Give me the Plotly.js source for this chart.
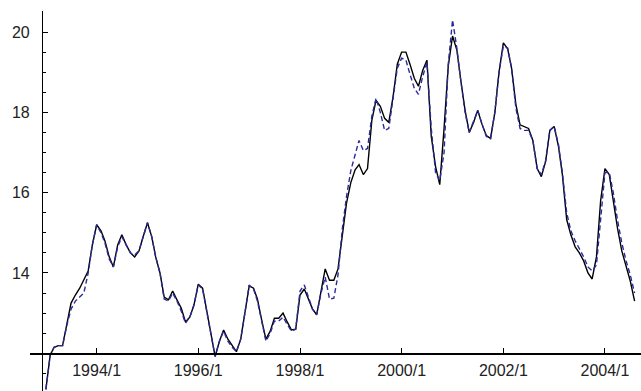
<!DOCTYPE html>
<html><head><meta charset="utf-8">
<script src="https://cdn.plot.ly/plotly-3.0.1.min.js"></script>
<style>html,body{margin:0;padding:0;background:#fff}#chart{width:641px;height:391px}</style>
</head><body><div id="chart"></div>
<script>
// Monthly series starting 1993/1
const startYear = 1993, startMonth = 1;
const seriesSolid = [
 11.1, 11.95, 12.15, 12.19, 12.19, 12.7, 13.25, 13.45, 13.62, 13.83, 14.05, 14.7,
 15.2, 15.05, 14.8, 14.4, 14.15, 14.7, 14.95, 14.7, 14.5, 14.4, 14.55, 14.9,
 15.25, 14.9, 14.4, 14.0, 13.4, 13.33, 13.55, 13.33, 13.12, 12.78, 12.9, 13.2,
 13.72, 13.62, 13.08, 12.45, 11.92, 12.3, 12.58, 12.35, 12.2, 12.04, 12.35, 13.0,
 13.68, 13.62, 13.35, 12.82, 12.35, 12.55, 12.87, 12.87, 13.0, 12.78, 12.58, 12.6,
 13.45, 13.6, 13.35, 13.1, 12.96, 13.55, 14.1, 13.82, 13.82, 14.1, 15.0, 15.74,
 16.25, 16.57, 16.7, 16.45, 16.6, 17.8, 18.3, 18.15, 17.85, 17.75, 18.4, 19.2,
 19.5, 19.5, 19.2, 18.85, 18.65, 19.05, 19.3, 17.4, 16.65, 16.2, 17.6, 19.15,
 19.9, 19.55, 18.8, 18.05, 17.5, 17.75, 18.05, 17.7, 17.42, 17.35, 18.0, 19.0,
 19.73, 19.58, 19.1, 18.2, 17.69, 17.65, 17.6, 17.3, 16.6, 16.4, 16.78, 17.55,
 17.65, 17.15, 16.45, 15.33, 14.95, 14.65, 14.5, 14.3, 14.0, 13.85, 14.4, 15.8,
 16.6, 16.45, 15.8, 15.1, 14.55, 14.15, 13.8, 13.3
];
const seriesDashed = [
 11.1, 11.95, 12.15, 12.19, 12.19, 12.7, 13.1, 13.3, 13.4, 13.5, 14.0, 14.7,
 15.2, 15.0, 14.75, 14.35, 14.15, 14.65, 14.9, 14.7, 14.5, 14.45, 14.55, 14.9,
 15.25, 14.9, 14.4, 14.0, 13.35, 13.3, 13.5, 13.3, 13.05, 12.75, 12.9, 13.2,
 13.7, 13.6, 13.05, 12.4, 11.92, 12.3, 12.55, 12.3, 12.15, 12.04, 12.35, 13.0,
 13.7, 13.6, 13.3, 12.8, 12.3, 12.5, 12.8, 12.8, 12.9, 12.72, 12.55, 12.6,
 13.55, 13.7, 13.4, 13.1, 12.96, 13.5, 13.9, 13.35, 13.37, 13.95, 15.1, 15.9,
 16.55, 16.95, 17.3, 17.05, 17.1, 17.9, 18.35, 18.0, 17.55, 17.6, 18.3, 19.1,
 19.35, 19.3, 18.95, 18.6, 18.45, 18.9, 19.25, 17.6, 16.5, 16.3, 17.0, 19.2,
 20.3, 19.6, 18.8, 18.0, 17.5, 17.8, 18.05, 17.7, 17.4, 17.35, 18.0, 19.0,
 19.65, 19.6, 19.1, 18.1, 17.6, 17.55, 17.55, 17.3, 16.6, 16.45, 16.8, 17.55,
 17.65, 17.2, 16.5, 15.5, 15.05, 14.8, 14.6, 14.4, 14.15, 14.05, 14.2, 15.4,
 16.5, 16.5, 16.0, 15.3, 14.75, 14.3, 13.95, 13.5
];
const yTickVals = [14, 16, 18, 20];
const yTickText = ['14', '16', '18', '20'];

const months = seriesSolid.map((_, i) => {
  const t = startMonth - 1 + i;
  const y = startYear + Math.floor(t / 12);
  const m = (t % 12) + 1;
  return y + '-' + String(m).padStart(2, '0') + '-01';
});

const font = {family: 'Liberation Sans, Arial, sans-serif', size: 16, color: '#222'};

const traces = [
  {x: months, y: seriesSolid, type: 'scatter', mode: 'lines',
   line: {color: '#000000', width: 1.4}, hoverinfo: 'skip'},
  {x: months, y: seriesDashed, type: 'scatter', mode: 'lines',
   line: {color: '#2a2a9c', width: 1.4, dash: '5px,3px'}, hoverinfo: 'skip'}
];

const layout = {
  width: 641, height: 391,
  margin: {l: 30, r: 0, t: 11, b: 0, pad: 0},
  paper_bgcolor: '#ffffff', plot_bgcolor: '#ffffff',
  showlegend: false,
  font: font,
  xaxis: {
    type: 'date', range: ['1992-09-09', '2004-09-16'],
    anchor: 'free', position: 0.0993,
    showline: true, linecolor: '#000', linewidth: 1.3,
    ticks: 'inside', ticklen: 5, tickcolor: '#000', tickwidth: 1,
    dtick: 'M24', tick0: '1994-01-01', tickformat: '%Y/%-m',
    ticklabelstandoff: 2,
    showgrid: false, zeroline: false, tickfont: font
  },
  yaxis: {
    range: [11.06, 20.524],
    anchor: 'free', position: 0.0196,
    showline: true, linecolor: '#000', linewidth: 1.3,
    ticks: 'inside', ticklen: 5, tickcolor: '#000', tickwidth: 1,
    tickmode: 'array', tickvals: yTickVals, ticktext: yTickText,
    ticklabelstandoff: 9,
    minor: {tickmode: 'linear', tick0: 0, dtick: 0.5, ticks: 'inside', ticklen: 3, tickcolor: '#000', showgrid: false},
    showgrid: false, zeroline: false, tickfont: font
  }
};

Plotly.newPlot('chart', traces, layout, {displayModeBar: false, staticPlot: true});
</script>
</body></html>
